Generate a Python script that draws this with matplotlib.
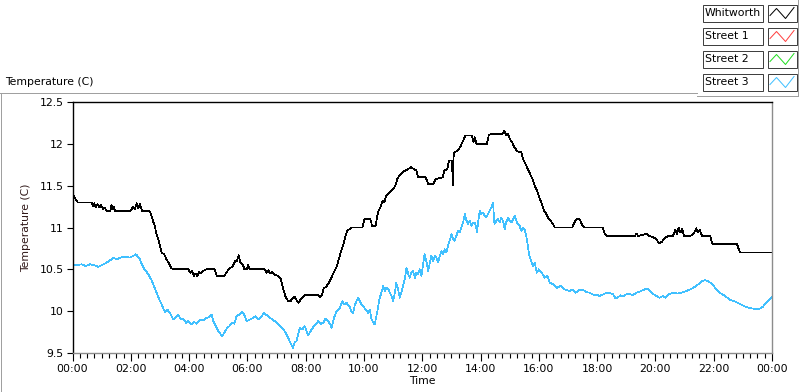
import numpy as np
import matplotlib
matplotlib.use("Agg")
import matplotlib.pyplot as plt
from matplotlib.patches import Rectangle
from matplotlib.ticker import FixedLocator, MultipleLocator

# hours since midnight, temperature in C
whitworth_h = [0.00, 0.05, 0.12, 0.18, 0.66, 0.70, 0.75, 0.80, 0.86, 0.92, 0.98, 1.05, 1.10, 1.17,
               1.30, 1.34, 1.38, 1.42, 1.46, 2.00, 2.08, 2.14, 2.20, 2.26, 2.32, 2.38, 2.64, 2.70,
               2.76, 2.82, 2.88, 2.94, 3.00, 3.06, 3.15, 3.22, 3.30, 3.38, 3.45, 3.98, 4.04, 4.10,
               4.16, 4.22, 4.28, 4.34, 4.40, 4.48, 4.60, 4.88, 4.95, 5.20, 5.28, 5.36, 5.50, 5.58,
               5.64, 5.70, 5.76, 5.84, 5.90, 5.98, 6.03, 6.08, 6.60, 6.66, 6.72, 6.78, 6.85, 6.92,
               7.05, 7.15, 7.22, 7.30, 7.40, 7.48, 7.55, 7.62, 7.75, 7.85, 7.95, 8.45, 8.50, 8.56,
               8.62, 8.72, 8.80, 8.88, 8.96, 9.05, 9.12, 9.20, 9.28, 9.35, 9.42, 9.50, 9.58, 9.95,
               10.02, 10.22, 10.28, 10.40, 10.48, 10.56, 10.64, 10.70, 10.76, 10.84, 10.92, 11.00,
               11.08, 11.14, 11.22, 11.32, 11.42, 11.52, 11.62, 11.70, 11.80, 11.86, 12.12, 12.20,
               12.38, 12.46, 12.70, 12.76, 12.86, 12.92, 13.02, 13.05, 13.08, 13.12, 13.22, 13.30,
               13.38, 13.48, 13.70, 13.76, 13.80, 13.86, 14.22, 14.28, 14.36, 14.76, 14.82, 14.88,
               14.94, 15.00, 15.08, 15.16, 15.24, 15.32, 15.40, 15.46, 15.54, 15.62, 15.70, 15.78,
               15.86, 15.94, 16.02, 16.10, 16.18, 16.26, 16.34, 16.45, 16.55, 17.15, 17.22, 17.30,
               17.40, 17.50, 17.56, 18.20, 18.26, 18.32, 19.30, 19.35, 19.40, 19.55, 19.70, 19.78,
               19.95, 20.05, 20.12, 20.22, 20.35, 20.45, 20.60, 20.68, 20.74, 20.80, 20.86, 20.92,
               20.98, 21.20, 21.30, 21.40, 21.46, 21.52, 21.60, 21.88, 21.94, 22.00, 22.80, 22.88,
               22.92, 24.00]
whitworth_t = [11.40, 11.38, 11.33, 11.30, 11.30, 11.26, 11.29, 11.24, 11.28, 11.24, 11.27, 11.22, 11.24, 11.20,
               11.20, 11.27, 11.22, 11.25, 11.20, 11.20, 11.25, 11.22, 11.29, 11.23, 11.28, 11.20, 11.20, 11.15,
               11.08, 11.02, 10.92, 10.86, 10.78, 10.70, 10.68, 10.62, 10.58, 10.52, 10.50, 10.50, 10.46, 10.48,
               10.42, 10.45, 10.42, 10.47, 10.45, 10.48, 10.50, 10.50, 10.42, 10.42, 10.46, 10.50, 10.54, 10.60,
               10.60, 10.67, 10.58, 10.56, 10.50, 10.50, 10.55, 10.50, 10.50, 10.46, 10.49, 10.45, 10.47, 10.44,
               10.42, 10.38, 10.28, 10.18, 10.12, 10.12, 10.15, 10.17, 10.10, 10.15, 10.19, 10.19, 10.17, 10.20,
               10.27, 10.30, 10.34, 10.40, 10.46, 10.52, 10.60, 10.70, 10.78, 10.88, 10.96, 10.98, 11.00, 11.00,
               11.10, 11.10, 11.02, 11.02, 11.18, 11.24, 11.32, 11.30, 11.38, 11.40, 11.43, 11.46,
               11.50, 11.58, 11.62, 11.66, 11.68, 11.70, 11.72, 11.70, 11.68, 11.60, 11.60, 11.52,
               11.52, 11.58, 11.60, 11.68, 11.70, 11.80, 11.80, 11.50, 11.88, 11.90, 11.92, 11.96,
               12.02, 12.10, 12.10, 12.02, 12.08, 12.00, 12.00, 12.10, 12.12, 12.12, 12.16, 12.10,
               12.12, 12.06, 12.02, 11.96, 11.92, 11.90, 11.90, 11.82, 11.76, 11.70, 11.64, 11.58,
               11.50, 11.44, 11.36, 11.28, 11.20, 11.16, 11.10, 11.06, 11.00, 11.00, 11.06, 11.10,
               11.10, 11.02, 11.00, 11.00, 10.92, 10.90, 10.90, 10.93, 10.90, 10.91, 10.93, 10.90,
               10.88, 10.85, 10.81, 10.83, 10.88, 10.90, 10.90, 10.97, 10.92, 11.00, 10.94, 10.98,
               10.90, 10.90, 10.92, 10.99, 10.94, 10.97, 10.90, 10.90, 10.82, 10.80, 10.80, 10.72,
               10.70, 10.70]

street3_h = [0.00, 0.15, 0.30, 0.45, 0.60, 0.75, 0.88, 1.00, 1.17, 1.30, 1.40, 1.52, 1.63, 1.80, 1.97,
             2.08, 2.18, 2.31, 2.43, 2.52, 2.60, 2.70, 2.77, 2.85, 2.91, 3.00, 3.06, 3.17, 3.25, 3.34,
             3.46, 3.55, 3.63, 3.72, 3.80, 3.90, 3.97, 4.09, 4.18, 4.26, 4.37, 4.49, 4.60, 4.70, 4.77,
             4.83, 4.92, 5.00, 5.07, 5.14, 5.22, 5.29, 5.38, 5.46, 5.55, 5.63, 5.72, 5.83, 5.90, 5.97,
             6.08, 6.20, 6.28, 6.37, 6.47, 6.57, 6.67, 6.77, 6.87, 6.94, 7.02, 7.11, 7.20, 7.28, 7.35,
             7.40, 7.48, 7.57, 7.62, 7.68, 7.74, 7.80, 7.88, 7.97, 8.03, 8.08, 8.17, 8.26, 8.35, 8.43,
             8.52, 8.60, 8.68, 8.77, 8.85, 8.89, 8.97, 9.06, 9.17, 9.26, 9.33, 9.40, 9.51, 9.57, 9.63,
             9.69, 9.80, 9.88, 9.97, 10.06, 10.14, 10.20, 10.26, 10.37, 10.45, 10.54, 10.60, 10.66,
             10.72, 10.77, 10.84, 10.89, 10.95, 11.00, 11.05, 11.11, 11.17, 11.23, 11.28, 11.34, 11.40,
             11.46, 11.52, 11.57, 11.62, 11.68, 11.75, 11.80, 11.85, 11.92, 11.97, 12.03, 12.08, 12.14,
             12.20, 12.26, 12.31, 12.37, 12.43, 12.48, 12.54, 12.60, 12.66, 12.72, 12.77, 12.83, 12.88,
             12.94, 13.00, 13.06, 13.11, 13.17, 13.23, 13.29, 13.34, 13.40, 13.46, 13.52, 13.57, 13.63,
             13.69, 13.75, 13.80, 13.85, 13.88, 13.93, 13.97, 14.03, 14.08, 14.14, 14.20, 14.25, 14.31,
             14.37, 14.43, 14.46, 14.48, 14.54, 14.60, 14.66, 14.71, 14.77, 14.83, 14.88, 14.94, 15.00,
             15.06, 15.12, 15.17, 15.23, 15.28, 15.34, 15.40, 15.46, 15.51, 15.57, 15.63, 15.68, 15.74,
             15.80, 15.86, 15.93, 16.00, 16.10, 16.20, 16.30, 16.37, 16.50, 16.62, 16.75, 16.88, 17.05,
             17.15, 17.25, 17.38, 17.50, 17.62, 17.75, 17.90, 18.00, 18.08, 18.20, 18.32, 18.43, 18.55,
             18.62, 18.70, 18.80, 18.90, 19.00, 19.10, 19.22, 19.35, 19.50, 19.63, 19.75, 19.85, 19.95,
             20.05, 20.14, 20.25, 20.35, 20.45, 20.60, 20.75, 20.90, 21.05, 21.20, 21.30, 21.40, 21.50,
             21.60, 21.70, 21.80, 21.88, 21.97, 22.05, 22.15, 22.25, 22.40, 22.54, 22.70, 22.88, 23.05,
             23.20, 23.35, 23.46, 23.58, 23.68, 23.78, 23.87, 24.00]
street3_t = [10.56, 10.55, 10.56, 10.54, 10.56, 10.55, 10.53, 10.55, 10.58, 10.61, 10.64, 10.62, 10.64, 10.65, 10.64,
             10.66, 10.68, 10.62, 10.52, 10.48, 10.44, 10.38, 10.32, 10.25, 10.20, 10.12, 10.08, 9.99, 10.02, 9.98,
             9.90, 9.93, 9.96, 9.90, 9.91, 9.86, 9.88, 9.84, 9.87, 9.85, 9.90, 9.89, 9.92, 9.93, 9.96,
             9.88, 9.82, 9.76, 9.73, 9.70, 9.75, 9.79, 9.82, 9.86, 9.85, 9.94, 9.96, 9.99, 9.95, 9.88,
             9.90, 9.92, 9.94, 9.90, 9.93, 9.98, 9.95, 9.92, 9.90, 9.88, 9.86, 9.82, 9.80, 9.76, 9.72,
             9.68, 9.62, 9.56, 9.63, 9.64, 9.72, 9.80, 9.78, 9.82, 9.76, 9.71, 9.76, 9.81, 9.84, 9.88,
             9.85, 9.86, 9.91, 9.88, 9.84, 9.80, 9.92, 10.00, 10.04, 10.12, 10.08, 10.10, 10.05, 10.00, 9.98,
             10.08, 10.16, 10.10, 10.06, 10.02, 9.98, 10.02, 9.90, 9.84, 9.98, 10.16, 10.22, 10.30,
             10.24, 10.28, 10.26, 10.22, 10.18, 10.12, 10.20, 10.34, 10.26, 10.16, 10.22, 10.30, 10.38,
             10.52, 10.44, 10.40, 10.46, 10.48, 10.40, 10.46, 10.44, 10.50, 10.42, 10.56, 10.68, 10.60,
             10.48, 10.58, 10.66, 10.60, 10.66, 10.64, 10.58, 10.66, 10.72, 10.68, 10.74, 10.70, 10.78,
             10.84, 10.92, 10.86, 10.84, 10.90, 10.96, 10.94, 11.00, 11.06, 11.16, 11.08, 11.04, 11.08,
             11.02, 11.06, 11.06, 11.00, 10.94, 11.10, 11.20, 11.16, 11.18, 11.14, 11.12, 11.16, 11.20,
             11.24, 11.30, 11.12, 11.04, 11.08, 11.10, 11.06, 11.12, 11.08, 10.98, 11.06, 11.12, 11.08,
             11.06, 11.10, 11.14, 11.08, 11.04, 11.02, 10.96, 11.00, 10.98, 10.90, 10.76, 10.66, 10.60,
             10.54, 10.58, 10.46, 10.50, 10.46, 10.40, 10.42, 10.34, 10.32, 10.28, 10.30, 10.26, 10.24,
             10.26, 10.22, 10.25, 10.26, 10.23, 10.22, 10.19, 10.20, 10.18, 10.20, 10.22, 10.22, 10.20,
             10.16, 10.16, 10.19, 10.18, 10.20, 10.21, 10.19, 10.22, 10.24, 10.26, 10.27, 10.23, 10.20,
             10.18, 10.16, 10.18, 10.16, 10.20, 10.22, 10.21, 10.22, 10.24, 10.26, 10.28, 10.30, 10.33,
             10.36, 10.37, 10.36, 10.34, 10.31, 10.28, 10.24, 10.21, 10.18, 10.14, 10.12, 10.09, 10.06,
             10.04, 10.03, 10.02, 10.03, 10.05, 10.09, 10.13, 10.17]

series_names = ["Whitworth", "Street 1", "Street 2", "Street 3"]
series_colors = ["#000000", "#ff4040", "#22dd22", "#40c0ff"]

hour_ticks = [0, 2, 4, 6, 8, 10, 12, 14, 16, 18, 20, 22, 24]
hour_labels = ["00:00", "02:00", "04:00", "06:00", "08:00", "10:00", "12:00",
               "14:00", "16:00", "18:00", "20:00", "22:00", "00:00"]
temp_ticks = [9.5, 10, 10.5, 11, 11.5, 12, 12.5]
temp_labels = ["9.5", "10", "10.5", "11", "11.5", "12", "12.5"]

W, H = 800, 392
fig = plt.figure(figsize=(W / 100, H / 100), dpi=100)
fig.patch.set_facecolor("white")

# frame + legend drawn in pixel coords
deco = fig.add_axes([0, 0, 1, 1])
deco.set_xlim(0, W)
deco.set_ylim(H, 0)
deco.axis("off")
px = 0.72
deco.plot([0, 697], [92.5, 92.5], color="#a0a0a0", lw=px)
deco.plot([0.5, 0.5], [92.5, H], color="#a0a0a0", lw=px)
deco.plot([0, W], [391.5, 391.5], color="#202020", lw=px)
deco.plot([697, 797.5], [95.5, 95.5], color="#a0a0a0", lw=px)
deco.plot([797.5, 797.5], [0, 95.5], color="#a0a0a0", lw=px)

for i, (name, col) in enumerate(zip(series_names, series_colors)):
    top = 4.5 + 23 * i
    deco.add_patch(Rectangle((702.5, top), 60, 17, fill=False, ec="#404040", lw=px))
    deco.add_patch(Rectangle((767.5, top), 29, 17, fill=False, ec="#404040", lw=px))
    deco.text(705, top + 8.8, name, fontsize=7.8, va="center", ha="left", color="black")
    deco.plot([770, 776.5, 785.5, 794], [top + 11, top + 4, top + 14, top + 3], color=col, lw=px)

fig.text(5 / W, 1 - 82 / H, "Temperature (C)", fontsize=7.8, va="center", ha="left")

ax = fig.add_axes([72.5 / W, 1 - 353 / H, (772 - 72.5) / W, (353 - 102) / H])
ax.plot(whitworth_h, whitworth_t, color=series_colors[0], lw=0.5, antialiased=False)
ax.plot(street3_h, street3_t, color=series_colors[3], lw=0.5, antialiased=False)

ax.set_xlim(0, 24)
ax.set_ylim(9.5, 12.5)
ax.xaxis.set_major_locator(FixedLocator(hour_ticks))
ax.set_xticklabels(hour_labels)
ax.xaxis.set_minor_locator(MultipleLocator(0.25))
ax.yaxis.set_major_locator(FixedLocator(temp_ticks))
ax.set_yticklabels(temp_labels)

for s in ["top", "left"]:
    ax.spines[s].set_color("black")
for s in ["right", "bottom"]:
    ax.spines[s].set_color("#8c8c8c")
for s in ax.spines.values():
    s.set_linewidth(1.0)

ax.tick_params(axis="x", which="major", direction="out", length=6, width=0.8, pad=2, labelsize=7.8)
ax.tick_params(axis="x", which="minor", direction="out", length=3.5, width=0.8)
ax.tick_params(axis="y", which="major", direction="out", length=4.5, width=0.8, pad=2, labelsize=7.8)

ax.set_xlabel("Time", fontsize=7.8, labelpad=1)
ax.set_ylabel("Temperature (C)", fontsize=7.8, color="#301818", labelpad=6)

fig.savefig("out.png", dpi=100)
